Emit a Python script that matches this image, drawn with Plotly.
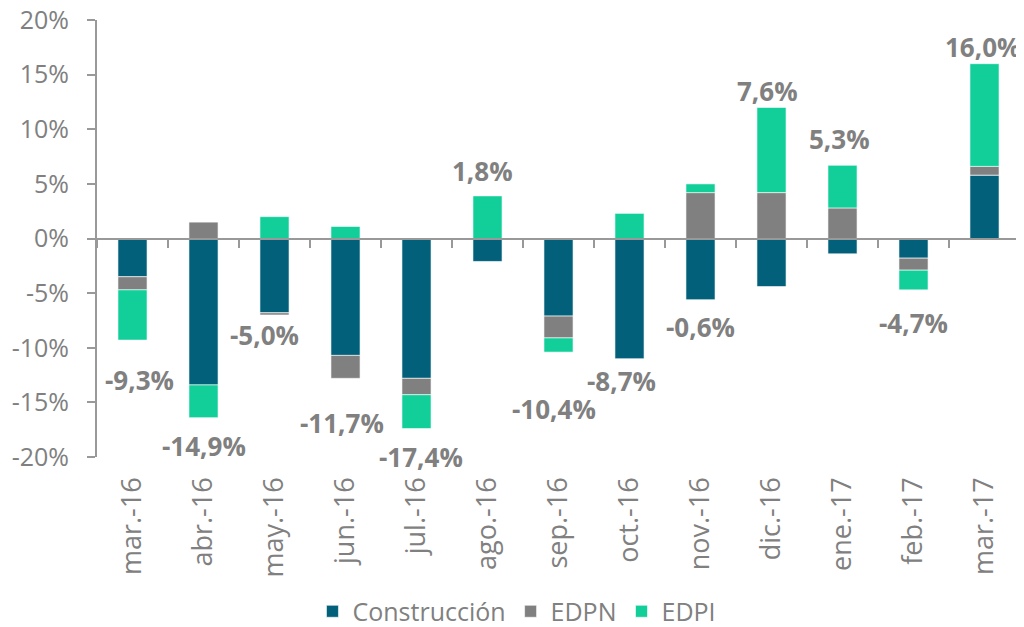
import plotly.graph_objects as go

categories = ["mar.-16", "abr.-16", "may.-16", "jun.-16", "jul.-16", "ago.-16", "sep.-16",
              "oct.-16", "nov.-16", "dic.-16", "ene.-17", "feb.-17", "mar.-17"]
construccion = [-3.5, -13.4, -6.8, -10.7, -12.8, -2.1, -7.1, -11.0, -5.6, -4.4, -1.4, -1.8, 5.8]
edpn = [-1.2, 1.5, -0.2, -2.1, -1.5, 0.0, -2.0, 0.0, 4.2, 4.2, 2.8, -1.1, 0.8]
edpi = [-4.6, -3.0, 2.0, 1.1, -3.1, 3.9, -1.3, 2.3, 0.8, 7.8, 3.9, -1.8, 9.4]
totals = [-9.3, -14.9, -5.0, -11.7, -17.4, 1.8, -10.4, -8.7, -0.6, 7.6, 5.3, -4.7, 16.0]
tick_vals = [-20, -15, -10, -5, 0, 5, 10, 15, 20]
tick_text = ["-20%", "-15%", "-10%", "-5%", "0%", "5%", "10%", "15%", "20%"]

# label placement styling (pixel offsets of each total label from its bar end)
label_gap = [40, 28, 20, 45, 28, 25, 57, 22, 27, 16, 26, 33, 17]
label_dx = [7, 0, -10, -4, 4, -5, -5, -8, 0, -4, -3, 0, -2]

C_CON = "#03607A"
C_EDPN = "#808080"
C_EDPI = "#12CF9A"
FONT = "Open Sans"

fig = go.Figure()
for name, vals, col in [("Construcción", construccion, C_CON), ("EDPN", edpn, C_EDPN), ("EDPI", edpi, C_EDPI)]:
    fig.add_trace(go.Bar(x=categories, y=vals, name=name, marker=dict(color=col, line=dict(color="white", width=0.6)),
                         hoverinfo="x+y"))

# invisible trace for zero-line axis with tick marks
fig.add_trace(go.Scatter(x=categories, y=[0] * len(categories), xaxis="x2", mode="lines",
                         line=dict(width=0), showlegend=False, hoverinfo="skip"))

for i, c in enumerate(categories):
    t = totals[i]
    pos = [v for v in (construccion[i], edpn[i], edpi[i]) if v > 0]
    neg = [v for v in (construccion[i], edpn[i], edpi[i]) if v < 0]
    label = f"{t:.1f}%".replace(".", ",")
    if t >= 0:
        yv, ys = sum(pos), label_gap[i]
    else:
        yv, ys = sum(neg), -label_gap[i]
    fig.add_annotation(x=c, y=yv, text=label, showarrow=False,
                       yanchor="middle", yshift=ys, xshift=label_dx[i],
                       font=dict(family=FONT, size=26, color="#808080", weight="bold"))

fig.update_layout(
    width=1016, height=619,
    barmode="relative", bargap=0.59,
    plot_bgcolor="white", paper_bgcolor="white",
    margin=dict(l=89, r=4, t=12, b=170, autoexpand=False),
    font=dict(family=FONT, color="#808080", size=20),
    xaxis=dict(type="category", categoryorder="array", categoryarray=categories,
               range=[-0.5, len(categories) - 0.5],
               showline=False, ticks="", tickangle=-90, showgrid=False,
               ticklabelstandoff=14,
               tickfont=dict(size=27, color="#808080")),
    xaxis2=dict(type="category", categoryorder="array", categoryarray=categories,
                overlaying="x", anchor="free", position=0.5, matches="x",
                showline=True, linecolor="#999999", linewidth=2,
                ticks="outside", ticklen=8, tickwidth=2, tickcolor="#999999",
                tickson="boundaries", showticklabels=False, showgrid=False),
    yaxis=dict(range=[-20, 20], tickvals=tick_vals, ticktext=tick_text,
               showline=True, linecolor="#999999", linewidth=2,
               ticks="outside", ticklen=8, tickwidth=2, tickcolor="#999999",
               showgrid=False, zeroline=False, ticklabeloverflow="allow",
               ticklabelstandoff=13,
               tickfont=dict(size=25, color="#808080")),
    legend=dict(orientation="h", x=0.455, xanchor="center", yref="container", y=0.025, yanchor="middle",
                font=dict(size=25, color="#808080"), itemwidth=30, traceorder="normal"),
)

fig.write_html("out.html")
